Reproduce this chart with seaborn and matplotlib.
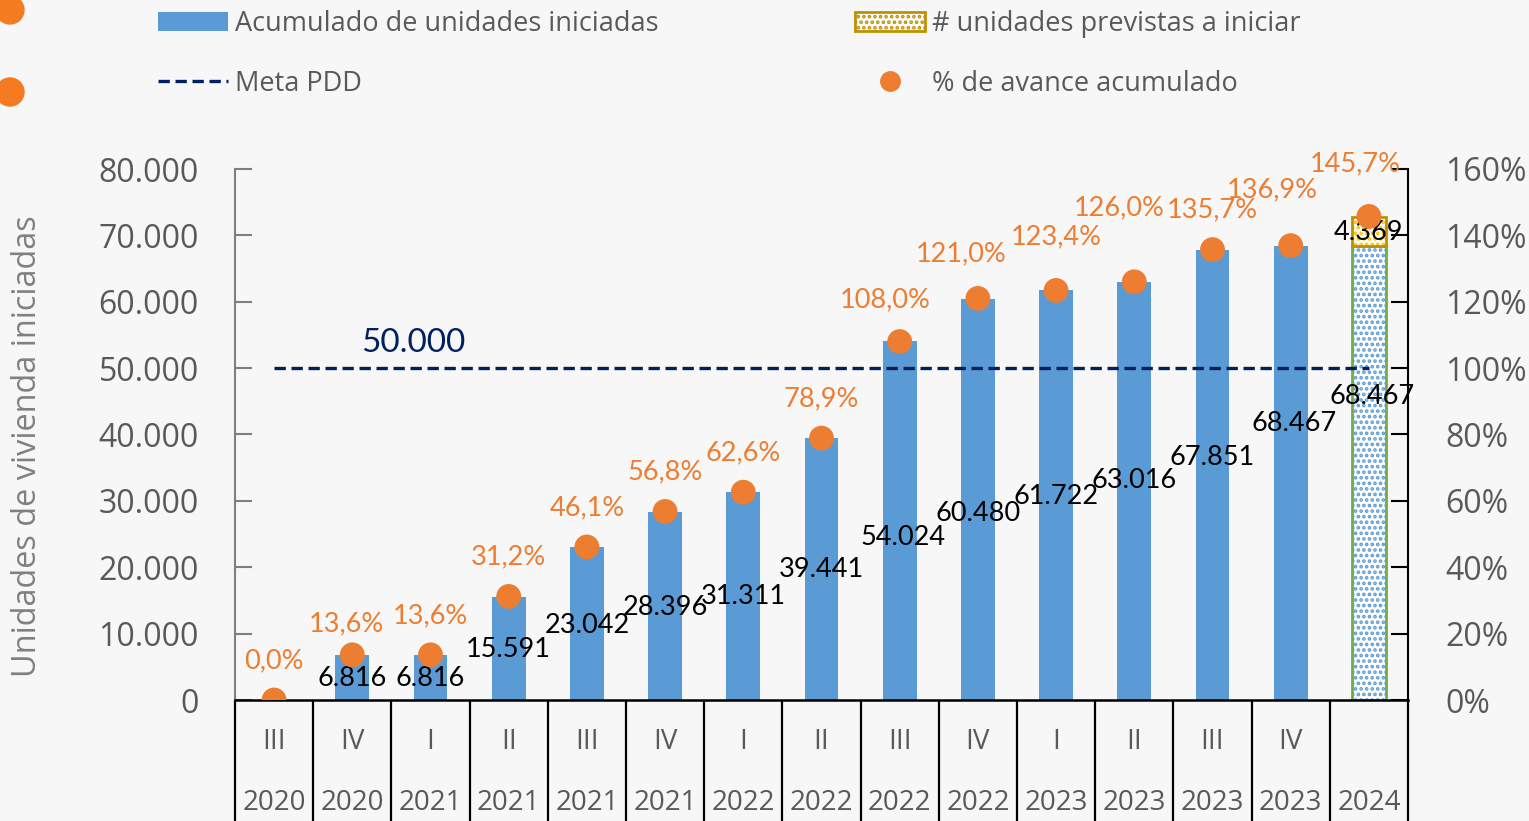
import numpy as np
import pandas as pd
import matplotlib
matplotlib.use("Agg")
import matplotlib.pyplot as plt
import matplotlib.patches as mpatches
import matplotlib.lines as mlines
import seaborn as sns

# ---------------- data ----------------
quarters = ["III", "IV", "I", "II", "III", "IV", "I", "II", "III", "IV", "I", "II", "III", "IV", ""]
years = ["2020", "2020", "2021", "2021", "2021", "2021", "2022", "2022", "2022", "2022",
         "2023", "2023", "2023", "2023", "2024"]
acumulado = [0, 6816, 6816, 15591, 23042, 28396, 31311, 39441, 54024, 60480,
             61722, 63016, 67851, 68467, 68467]
previstas = [0, 0, 0, 0, 0, 0, 0, 0, 0, 0, 0, 0, 0, 0, 4369]
avance_pct = [0.0, 13.6, 13.6, 31.2, 46.1, 56.8, 62.6, 78.9, 108.0, 121.0,
              123.4, 126.0, 135.7, 136.9, 145.7]
meta = 50000

# label placement (manually placed in original chart)
val_label_y = [None, 3164, 3164, 7533, 11299, 14011, 15518, 19586, 24557, 28173,
               30734, 33145, 36610, 41582, 45650]
val_label_dx = [0, 0, 0, 0, 0, 0, 0, 0, 0.04, 0, 0, 0, 0, 0.05, 0.04]
prev_label_y = 70358
pct_label_y = [11.75, 22.9, 25.3, 43.1, 57.9, 68.7, 74.4, 90.7, 120.5, 134.4,
               139.5, 148.2, 147.6, 153.7, 161.5]
pct_label_dx = [0, -0.08, 0, 0, 0, 0, 0, 0, -0.19, -0.22, 0, -0.19, 0, -0.23, -0.18]

BLUE = "#5B9BD5"
ORANGE = "#ED7D31"
NAVY = "#002060"
GREY = "#595959"
GREEN = "#70AD47"
GOLD = "#BF9000"
YELLOW = "#FFC000"
LATO = ["Lato", "DejaVu Sans"]

sns.set_style("white")
plt.rcParams["font.family"] = ["Open Sans", "DejaVu Sans"]
plt.rcParams["hatch.linewidth"] = 1.8

fig = plt.figure(figsize=(15.29, 8.21), dpi=100)
bg = "#f7f7f7"
fig.patch.set_facecolor(bg)

ax = fig.add_axes([235 / 1529, 1 - 700 / 821, (1408 - 235) / 1529, (700 - 169) / 821])
ax.set_facecolor("none")

n = len(quarters)
df = pd.DataFrame({"idx": np.arange(n), "acumulado": acumulado, "previstas": previstas,
                   "pct": avance_pct})

sns.barplot(data=df, x="idx", y="acumulado", color=BLUE, width=0.43,
            saturation=1, ax=ax, native_scale=True, edgecolor="none")
# restyle last bar: dotted pattern
last_patch = ax.patches[-1]
last_patch.set_facecolor("white")
last_patch.set_edgecolor(BLUE)
last_patch.set_hatch("...")
last_patch.set_linewidth(0)
w0 = last_patch.get_width()
ax.bar(df["idx"].iloc[-1], df["acumulado"].iloc[-1], width=w0, facecolor="none",
       edgecolor=GREEN, linewidth=2)
# stacked previstas
ax.bar(df["idx"].iloc[-1], df["previstas"].iloc[-1], bottom=df["acumulado"].iloc[-1],
       width=w0, facecolor="white", edgecolor=YELLOW, hatch="...", linewidth=0)
ax.bar(df["idx"].iloc[-1], df["previstas"].iloc[-1], bottom=df["acumulado"].iloc[-1],
       width=w0, facecolor="none", edgecolor=GOLD, linewidth=2)

# meta line
DASH = (0, (3.4, 1.7))
ax.plot([0, n - 1], [meta, meta], color=NAVY, lw=2.4, linestyle=DASH, zorder=4)
ax.text(1.78, 53785, "50.000", color=NAVY, fontsize=24, family=LATO,
        ha="center", va="center")

ax.set_xlim(-0.5, n - 0.5)
ax.set_ylim(0, 80000)
ax.set_yticks(np.arange(0, 80001, 10000))
ax.set_yticklabels([f"{v:,.0f}".replace(",", ".") for v in np.arange(0, 80001, 10000)])
ax.tick_params(axis="y", direction="in", length=12, width=1.5, color="#7f7f7f",
               labelsize=23, labelcolor=GREY, pad=26, left=True)
ax.set_xticks([])
ax.set_xlabel("")
ax.set_ylabel("")
for s in ["top", "right"]:
    ax.spines[s].set_visible(False)
ax.spines["left"].set_color("#7f7f7f")
ax.spines["left"].set_linewidth(1.5)
ax.spines["bottom"].set_color("black")
ax.spines["bottom"].set_linewidth(1.8)

# value labels
for i in range(n):
    if val_label_y[i] is not None:
        ax.text(i + val_label_dx[i], val_label_y[i], f"{acumulado[i]:,.0f}".replace(",", "."),
                ha="center", va="center", fontsize=19.5, color="black",
                family=LATO, zorder=6)
ax.text(n - 1, prev_label_y, f"{previstas[-1]:,.0f}".replace(",", "."), ha="center",
        va="center", fontsize=19.5, color="black", family=LATO, zorder=6)

# category table
trans = ax.get_xaxis_transform()
ax.vlines(np.arange(-0.5, n, 1.0), 0, -121 / 531, transform=trans, color="black",
          lw=1.6, clip_on=False)
for i in range(n):
    ax.text(i, -42 / 531, quarters[i], transform=trans, ha="center", va="center",
            fontsize=20, color=GREY)
    ax.text(i, -103 / 531, years[i], transform=trans, ha="center", va="center",
            fontsize=20, color=GREY)

# secondary axis
ax2 = ax.twinx()
ax2.set_ylim(0, 160)
sns.scatterplot(data=df, x="idx", y="pct", color=ORANGE, s=320, edgecolor="none",
                ax=ax2, zorder=7, legend=False)
ax2.set_xlim(-0.5, n - 0.5)
ax2.set_yticks(np.arange(0, 161, 20))
ax2.set_yticklabels([f"{v}%" for v in range(0, 161, 20)])
ax2.tick_params(axis="y", direction="in", length=12, width=1.5, color="black",
                labelsize=23, labelcolor=GREY, pad=27)
ax2.set_ylabel("")
ax2.set_xlabel("")
for s in ["top", "left", "bottom"]:
    ax2.spines[s].set_visible(False)
ax2.spines["right"].set_color("black")
ax2.spines["right"].set_linewidth(1.5)

for i in range(n):
    ax2.text(i + pct_label_dx[i], pct_label_y[i], f"{avance_pct[i]:.1f}%".replace(".", ","),
             ha="center", va="center", fontsize=19.5, color=ORANGE,
             family=LATO, zorder=8)

# y label
fig.text(28 / 1529, 1 - 446 / 821, "Unidades de vivienda iniciadas", rotation=90,
         ha="center", va="center", fontsize=23.4, color="#808080")

# legend
h_acum = mpatches.Patch(facecolor=BLUE, edgecolor="none", label="Acumulado de unidades iniciadas")
h_meta = mlines.Line2D([], [], color=NAVY, lw=2.4, linestyle=DASH, label="Meta PDD")
h_prev = mpatches.Patch(facecolor="white", edgecolor=GOLD, hatch="...", lw=2,
                        label="# unidades previstas a iniciar")
h_pct = mlines.Line2D([], [], color=ORANGE, marker="o", markersize=14, lw=0,
                      label="% de avance acumulado")
leg = fig.legend(handles=[h_acum, h_meta, h_prev, h_pct], ncol=2, loc="upper left",
                 bbox_to_anchor=(158 / 1529, 1 - 10 / 821), frameon=False, fontsize=19.5,
                 labelcolor=GREY, handlelength=2.58, handleheight=0.7, handletextpad=0.26,
                 columnspacing=7.27, labelspacing=1.17, borderpad=0, borderaxespad=0)

# decorative dots top-left
for cy in [10, 92]:
    fig.add_artist(mpatches.Circle((10 / 100, (821 - cy) / 100), 0.14, color="#F47B20",
                                   transform=fig.dpi_scale_trans))

fig.savefig("out.png", dpi=100, facecolor=fig.get_facecolor())
